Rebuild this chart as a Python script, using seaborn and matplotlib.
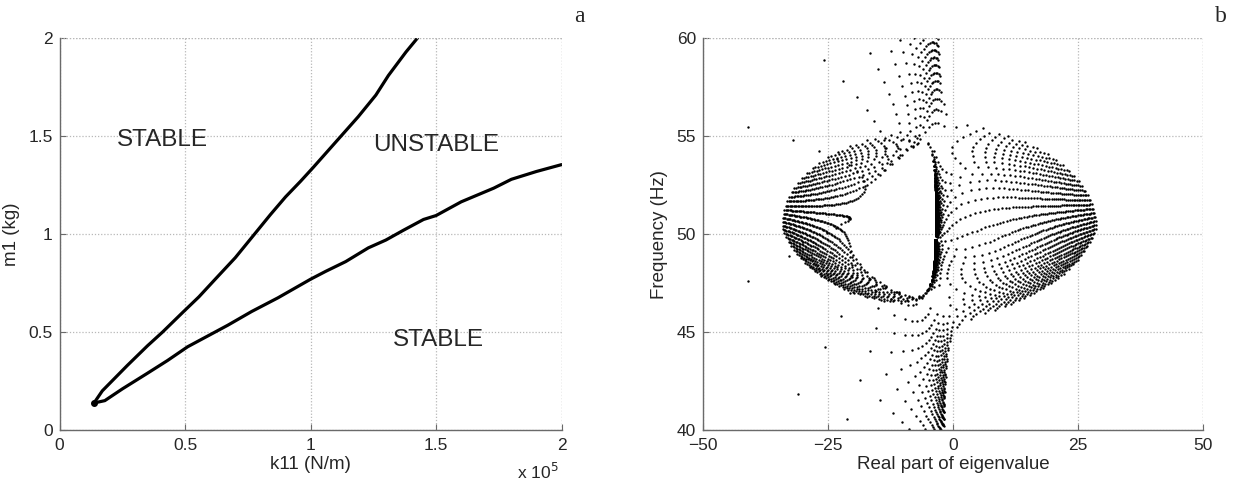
import numpy as np
import pandas as pd
import matplotlib
matplotlib.use("Agg")
import matplotlib.pyplot as plt
import seaborn as sns

# ---------------- Panel a: stability boundaries (k11 in 1e5 N/m, m1 in kg)
upper_k = [0.137, 0.17, 0.27, 0.35, 0.41, 0.49, 0.555, 0.62, 0.70, 0.77, 0.84,
           0.90, 0.96, 1.01, 1.10, 1.19, 1.26, 1.31, 1.38, 1.425]
upper_m = [0.138, 0.20, 0.33, 0.43, 0.50, 0.60, 0.68, 0.77, 0.88, 0.99, 1.10,
           1.19, 1.27, 1.34, 1.47, 1.60, 1.71, 1.81, 1.93, 2.0]
lower_k = [0.137, 0.18, 0.25, 0.35, 0.43, 0.51, 0.59, 0.67, 0.765, 0.87, 1.00,
           1.06, 1.14, 1.23, 1.30, 1.37, 1.45, 1.50, 1.60, 1.73, 1.80, 1.90, 2.0]
lower_m = [0.138, 0.15, 0.21, 0.29, 0.355, 0.425, 0.48, 0.535, 0.605, 0.675, 0.77,
           0.81, 0.86, 0.93, 0.97, 1.02, 1.075, 1.095, 1.165, 1.235, 1.28, 1.32, 1.355]

# ---------------- Panel b: parameter grid of the 2-DOF friction model whose eigenvalues are plotted
m1_grid = np.linspace(0.10, 2.0, 64)          # kg
k11_grid = np.linspace(2500.0, 200000.0, 61)  # N/m
m2 = 1.0
k22 = 0.975e5
c1 = 8.0
c2 = 7.0
mu = 0.14

MM, KK = np.meshgrid(m1_grid, k11_grid, indexing="ij")
MM = MM.ravel(); KK = KK.ravel()
n = MM.size
A = np.zeros((n, 4, 4))
A[:, 0, 2] = 1.0
A[:, 1, 3] = 1.0
A[:, 2, 0] = -KK / MM
A[:, 2, 1] = -(mu * KK) / MM
A[:, 3, 0] = (mu * KK) / m2
A[:, 3, 1] = -k22 / m2
A[:, 2, 2] = -c1 / MM
A[:, 3, 3] = -c2 / m2
eig = np.linalg.eigvals(A).ravel()
eig = eig[eig.imag > 0]
df_b = pd.DataFrame({"re": eig.real, "f": eig.imag / (2 * np.pi)})
df_b = df_b[(df_b.f > 39.5) & (df_b.f < 60.5) & (df_b.re > -50) & (df_b.re < 50)]

df_up = pd.DataFrame({"k": upper_k, "m": upper_m})
df_lo = pd.DataFrame({"k": lower_k, "m": lower_m})

# ---------------- Figure
sns.set_style("white")
plt.rcParams["font.family"] = ["Liberation Sans", "DejaVu Sans"]

fig = plt.figure(figsize=(12.35, 4.86), dpi=100)
ax1 = fig.add_axes([0.0483, 0.1152, 0.4064, 0.806])
ax2 = fig.add_axes([0.5692, 0.1152, 0.4049, 0.806])

grid_kw = dict(color="#b8b8b8", linestyle=(0, (1, 1.5)), linewidth=0.9)

sns.lineplot(data=df_up, x="k", y="m", sort=False, ax=ax1, color="black", lw=2.3)
sns.lineplot(data=df_lo, x="k", y="m", sort=False, ax=ax1, color="black", lw=2.3)
ax1.plot([upper_k[0]], [upper_m[0]], "o", color="black", ms=4)
ax1.set_xlim(0, 2)
ax1.set_ylim(0, 2)
ax1.set_xticks([0, 0.5, 1, 1.5, 2])
ax1.set_xticklabels(["0", "0.5", "1", "1.5", "2"])
ax1.set_yticks([0, 0.5, 1, 1.5, 2])
ax1.set_yticklabels(["0", "0.5", "1", "1.5", "2"])
ax1.set_xlabel("k11 (N/m)", fontsize=13.5, labelpad=2)
ax1.set_ylabel("m1 (kg)", fontsize=13.5, labelpad=6)
ax1.text(0.41, 1.48, "STABLE", fontsize=17.5, ha="center", va="center")
ax1.text(1.50, 1.455, "UNSTABLE", fontsize=17.5, ha="center", va="center")
ax1.text(1.51, 0.46, "STABLE", fontsize=17.5, ha="center", va="center")
ax1.text(0.995, -0.082, r"x 10$^{5}$", transform=ax1.transAxes, ha="right", va="top", fontsize=12.5)
ax1.text(1.035, 1.03, "a", transform=ax1.transAxes, fontsize=17,
         family=["Liberation Serif", "DejaVu Serif"], ha="center", va="bottom")

sns.scatterplot(data=df_b, x="re", y="f", ax=ax2, color="black", s=3.0,
                linewidth=0, marker="o", legend=False)
ax2.set_xlim(-50, 50)
ax2.set_ylim(40, 60)
ax2.set_xticks([-50, -25, 0, 25, 50])
ax2.set_yticks([40, 45, 50, 55, 60])
ax2.set_xlabel("Real part of eigenvalue", fontsize=13.5, labelpad=2)
ax2.set_ylabel("Frequency (Hz)", fontsize=13.5, labelpad=6)
ax2.text(1.036, 1.03, "b", transform=ax2.transAxes, fontsize=17,
         family=["Liberation Serif", "DejaVu Serif"], ha="center", va="bottom")

for ax in (ax1, ax2):
    ax.grid(True, **grid_kw)
    ax.set_axisbelow(True)
    for s in ("top", "right"):
        ax.spines[s].set_visible(False)
    for s in ("left", "bottom"):
        ax.spines[s].set_color("#6a6a6a")
        ax.spines[s].set_linewidth(1.0)
    ax.tick_params(direction="in", length=4, width=0.8, color="#6a6a6a",
                   labelsize=12.5, bottom=True, left=True)
    ax.tick_params(axis="x", pad=6)
    ax.tick_params(axis="y", pad=5)
    ax.axhline(ax.get_ylim()[1], **grid_kw)
    ax.axvline(ax.get_xlim()[1], **grid_kw)

fig.savefig("out.png", dpi=100)
